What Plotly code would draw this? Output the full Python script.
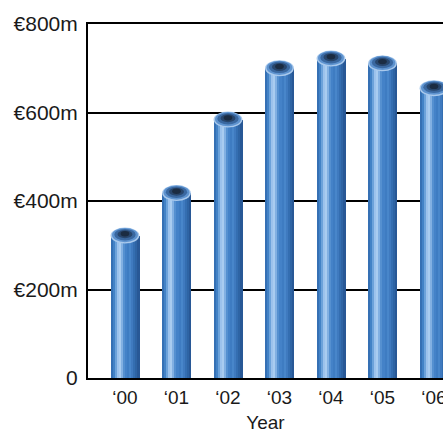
import plotly.graph_objects as go

# Annual figures, € millions
years = ["‘00", "‘01", "‘02", "‘03", "‘04", "‘05", "‘06"]
values = [322, 418, 584, 700, 722, 711, 655]

y_ticks = [0, 200, 400, 600, 800]
y_tick_labels = ["0", "€200m", "€400m", "€600m", "€800m"]

xpos = list(range(len(years)))
BAR_W = 0.56

# horizontal shading across a bar to give it a tube look (left -> right)
shade = [
    "#3570b4", "#4282c6", "#6ca2da", "#9cc2ec", "#a9ccf0", "#82b0e2",
    "#5590d0", "#4482c8", "#3e7cc2", "#4886ca", "#3f7abf", "#346eb1",
    "#2e64a4", "#285896",
]
n = len(shade)
slice_w = BAR_W / n

fig = go.Figure()
for i, col in enumerate(shade):
    fig.add_trace(go.Bar(
        x=xpos,
        y=values,
        width=[slice_w * 1.08] * len(xpos),
        offset=[-BAR_W / 2 + i * slice_w] * len(xpos),
        marker=dict(color=col, line=dict(width=0)),
        showlegend=False,
        hoverinfo="skip",
    ))

# open tube end on top of each bar: concentric ellipses
cap_layers = [
    (1.00, 18, "#a9c9ec"),
    (0.90, 16, "#5e93cf"),
    (0.74, 13, "#3a68a0"),
    (0.52, 9, "#28466c"),
    (0.30, 6, "#1b2c42"),
]
shapes = []
for x, v in zip(xpos, values):
    for k, (fw, hh, col) in enumerate(cap_layers):
        lift = k
        shapes.append(dict(
            type="circle", xref="x", yref="y", layer="above",
            x0=x - BAR_W / 2 * fw, x1=x + BAR_W / 2 * fw,
            y0=v - hh + lift, y1=v + hh + lift,
            fillcolor=col, line=dict(width=0),
        ))

font_family = "Liberation Sans, Arial, sans-serif"
fig.update_layout(
    width=443, height=433,
    margin=dict(l=88, r=0, t=24, b=55),
    paper_bgcolor="white", plot_bgcolor="white",
    barmode="overlay",
    bargap=0,
    shapes=shapes,
    font=dict(family=font_family, color="#1a1a1a"),
    xaxis=dict(
        range=[-0.718, 6.175],
        tickvals=xpos, ticktext=years,
        tickfont=dict(size=19),
        ticklabeloverflow="allow",
        automargin=False,
        showgrid=False, zeroline=False,
        showline=True, linecolor="black", linewidth=2, mirror=True,
        ticks="", ticklabelstandoff=1,
        title=dict(text="Year", font=dict(size=19), standoff=14),
    ),
    yaxis=dict(
        range=[0, 800],
        tickvals=y_ticks, ticktext=y_tick_labels,
        tickfont=dict(size=21),
        automargin=False,
        showgrid=True, gridcolor="black", gridwidth=1.5,
        zeroline=False,
        showline=True, linecolor="black", linewidth=2,
        ticks="", ticklabelstandoff=4,
    ),
)

fig.write_html("out.html")
